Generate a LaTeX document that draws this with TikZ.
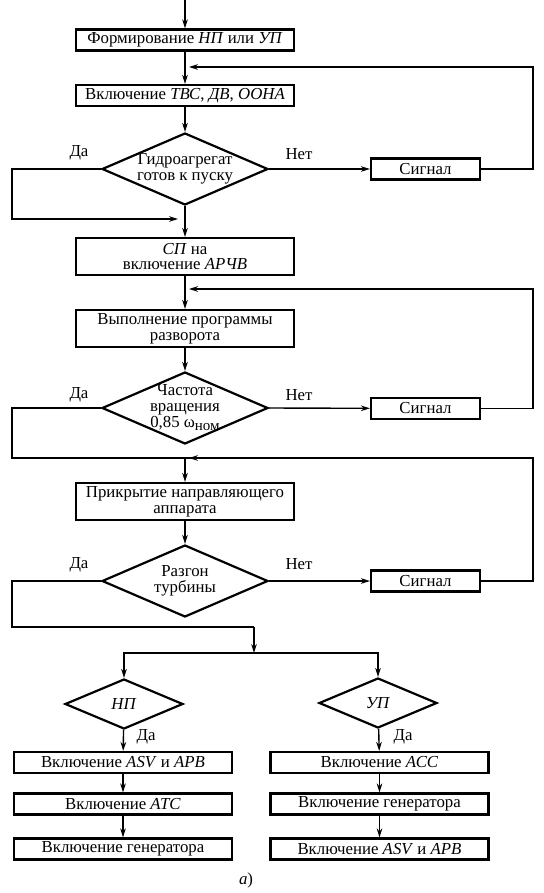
\documentclass[tikz,border=0pt]{standalone}
\usepackage{fontspec}
\setmainfont{Liberation Serif}
\usetikzlibrary{shapes.geometric,arrows.meta}

\begin{document}
\begin{tikzpicture}[x=0.5pt, y=-0.5pt,
  font=\fontsize{8.4}{7.8}\selectfont,
  blk/.style={draw, line width=1.1pt, minimum width=109pt, minimum height=10.5pt, inner sep=0pt, align=center},
  tall/.style={blk, minimum height=18.5pt},
  sig/.style={blk, minimum width=54.5pt},
  dia/.style={draw, diamond, line width=1.1pt, minimum width=83pt, minimum height=36pt, inner sep=0pt},
  smalldia/.style={dia, minimum width=59pt, minimum height=25pt},
  txt/.style={align=center, inner sep=0pt},
  flow/.style={line width=0.7pt, -{Stealth[length=4.5pt, width=2.8pt]}},
  wire/.style={line width=0.7pt}]

\useasboundingbox (0,0) rectangle (543,893);

\node[blk] (form) at (185,40) {Формирование \textit{НП} или \textit{УП}};
\node[blk] (vkl) at (185,95.5) {Включение \textit{ТВС}, \textit{ДВ}, \textit{ООНА}};
\node[dia] (gotov) at (185,169) {};
\node[txt] (gotovt) at (gotov) {Гидроагрегат\\готов к пуску};
\node[sig] (sig1) at (425.5,169) {Сигнал};
\node[tall] (sp) at (185,256.5) {\textit{СП} на\\включение \textit{АРЧВ}};
\node[tall] (prog) at (185,328.5) {Выполнение программы\\разворота};
\node[dia] (freq) at (185,408) {};
\node[txt] (freqt) at (185,408) {Частота\\вращения\\0,85 ω\raisebox{-0.5ex}{\fontsize{7.5}{7.5}\selectfont ном}};
\node[sig] (sig2) at (425.5,408.5) {Сигнал};
\node[tall] (napr) at (185,501.5) {Прикрытие направляющего\\аппарата};
\node[dia] (razg) at (185,581) {};
\node[txt] (razgt) at (razg) {Разгон\\турбины};
\node[sig] (sig3) at (425.5,581) {Сигнал};

\node[smalldia] (np) at (124,704) {\textit{НП}};
\node[smalldia] (up) at (378,703) {\textit{УП}};
\node[blk] (l1) at (123,762.5) {Включение \textit{ASV} и \textit{АРВ}};
\node[blk] (l2) at (123,804) {Включение \textit{АТС}};
\node[blk] (l3) at (123,849) {Включение генератора};
\node[blk] (r1) at (379.5,762.5) {Включение \textit{АСС}};
\node[blk] (r2) at (379.5,804) {Включение генератора};
\node[blk] (r3) at (379.5,849) {Включение \textit{ASV} и \textit{АРВ}};

\node (da1) at (79,153) {Да};
\node (net1) at (299,154) {Нет};
\node (da2) at (79,395) {Да};
\node (net2) at (299,395) {Нет};
\node (da3) at (79,565) {Да};
\node (net3) at (299,564) {Нет};
\node (da4) at (146,737) {Да};
\node (da5) at (403,737) {Да};
\node (fig) at (246,880) {\textit{а})};

\coordinate (top) at (185,0);
\coordinate (ret1) at (533,67);
\coordinate (in1) at (189,67);
\coordinate (yes1) at (12,219);
\coordinate (jn1) at (178,219);
\coordinate (ret2) at (533,289);
\coordinate (in2) at (189,289);
\coordinate (yes2) at (12,458);
\coordinate (ret3) at (533,458);
\coordinate (in3) at (189,458);
\coordinate (jn2) at (185,458);
\coordinate (yes3) at (12,627);
\coordinate (drop) at (254,627);
\coordinate (split) at (254,653);

\draw[flow] (top) -- (form);
\draw[flow] (form) -- (vkl);
\draw[flow] (vkl) -- (gotov);
\draw[flow] (gotov) -- (sp);
\draw[flow] (gotov.east) -- (sig1);
\draw[flow] (sig1.east) -| (ret1) -- (in1);
\draw[flow] (gotov.west) -| (yes1) -- (jn1);

\draw[flow] (sp) -- (prog);
\draw[flow] (prog) -- (freq);
\draw[flow] (freq.east) -- (sig2);
\draw[flow] (sig2.east) -| (ret2) -- (in2);
\draw[wire] (freq.west) -| (yes2) -- (ret3);
\draw[flow] (sig3.east) -| (ret3) -- (in3);
\draw[flow] (jn2) -- (napr);

\draw[flow] (napr) -- (razg);
\draw[flow] (razg.east) -- (sig3);
\draw[wire] (razg.west) -| (yes3) -- (drop);
\draw[flow] (drop) -- (split);
\draw[flow] (split) -| (np.north);
\draw[flow] (split) -| (up.north);

\draw[flow] (np) -- (l1);
\draw[flow] (l1) -- (l2);
\draw[flow] (l2) -- (l3);
\draw[flow] (up) -- (r1);
\draw[flow] (r1) -- (r2);
\draw[flow] (r2) -- (r3);
\end{tikzpicture}
\end{document}
